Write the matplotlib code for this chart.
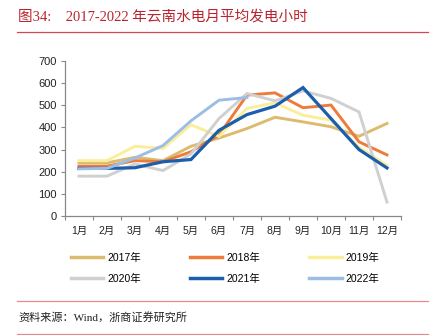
import matplotlib
matplotlib.use("Agg")
import matplotlib.pyplot as plt
from matplotlib.lines import Line2D

plt.rcParams["font.family"] = ["Liberation Sans", "Noto Sans CJK SC"]

months = ["1月", "2月", "3月", "4月", "5月", "6月", "7月", "8月", "9月", "10月", "11月", "12月"]
y2017 = [240, 240, 265, 250, 315, 352, 395, 446, 425, 403, 360, 418]
y2018 = [225, 225, 250, 245, 290, 366, 546, 556, 489, 501, 335, 276]
y2019 = [250, 250, 315, 305, 412, 360, 486, 511, 455, 433, 310, 229]
y2020 = [180, 180, 235, 205, 280, 440, 553, 520, 565, 531, 470, 63]
y2021 = [215, 215, 218, 245, 255, 387, 458, 496, 580, 440, 300, 217]
y2022 = [213, 215, 262, 318, 430, 523, 535]

series = [
    ("2017年", y2017, "#DDBB6E", 2.1),
    ("2018年", y2018, "#EE7B3A", 2.1),
    ("2019年", y2019, "#FBEE9B", 2.1),
    ("2020年", y2020, "#D0D0D0", 2.1),
    ("2021年", y2021, "#1B5EAB", 2.3),
    ("2022年", y2022, "#9CBDE5", 2.1),
]

W, H = 434, 335
fig = plt.figure(figsize=(W / 100, H / 100), dpi=100)
ax = fig.add_axes([65 / W, 1 - 216 / H, (401 - 65) / W, (216 - 61) / H])

handles = []
for label, vals, color, lw in series:
    x = list(range(len(vals)))
    ax.plot(x, vals, color=color, lw=lw, solid_joinstyle="miter")
    handles.append(Line2D([], [], color=color, lw=2.5, label=label))

ax.set_xlim(-0.5, 11.5)
ax.set_ylim(0, 700)
ax.set_yticks(range(0, 701, 100))
ax.set_xticks(range(12))
ax.set_xticklabels(months)
ax.set_xticks([i - 0.5 for i in range(13)], minor=True)
ax.tick_params(axis="x", which="major", length=0, pad=7, labelsize=7.5, colors="#222222")
ax.tick_params(axis="x", which="minor", length=3, width=0.8, color="#888888")
ax.tick_params(axis="y", length=3, width=0.8, color="#888888", labelsize=8, pad=3,
               labelcolor="#222222")
for s in ("top", "right"):
    ax.spines[s].set_visible(False)
for s in ("left", "bottom"):
    ax.spines[s].set_color("#888888")
    ax.spines[s].set_linewidth(0.9)

# legend is filled column by column, reorder so rows read 2017-2019 / 2020-2022
order = [0, 3, 1, 4, 2, 5]
fig.legend(handles=[handles[i] for i in order], ncol=3, loc="upper left",
           bbox_to_anchor=(71 / W, 1 - 253 / H),
           frameon=False, fontsize=7.5, handlelength=3.1, handletextpad=0.35,
           columnspacing=4.75, labelspacing=1.05, borderaxespad=0, borderpad=0)

# header and footer
fig.text(18 / W, 1 - 17 / H, "图34:    2017-2022 年云南水电月平均发电小时", color="#B8232F",
         fontsize=10.5, va="center", ha="left", family=["Liberation Serif", "Noto Sans CJK SC"])
fig.add_artist(Line2D([17 / W, 428 / W], [1 - 32 / H] * 2, color="#D64550", lw=0.9))
fig.add_artist(Line2D([17 / W, 428 / W], [1 - 301 / H] * 2, color="#E88A8A", lw=0.9))
fig.add_artist(Line2D([17 / W, 428 / W], [1 - 333.5 / H] * 2, color="#E88A8A", lw=0.9))
fig.text(18 / W, 1 - 317 / H, "资料来源：Wind，浙商证券研究所", color="#222222",
         fontsize=8, va="center", ha="left", family=["Liberation Serif", "Noto Sans CJK SC"])

fig.savefig("out.png", dpi=100)
